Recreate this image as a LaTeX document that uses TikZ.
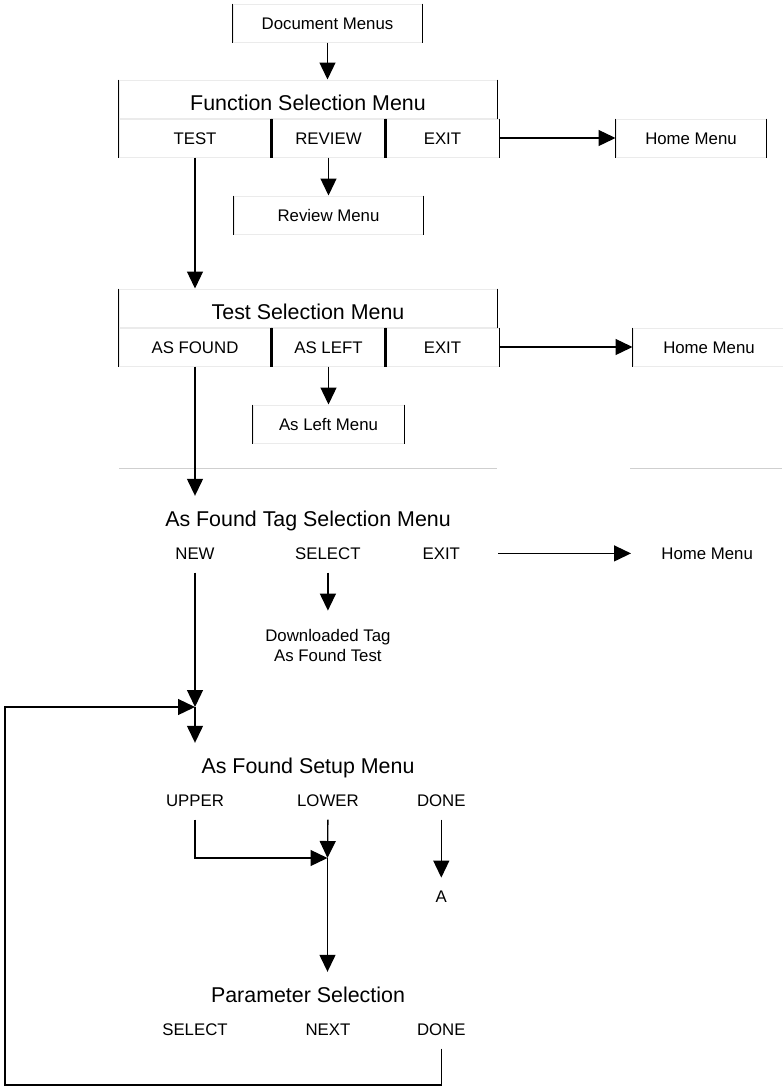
\documentclass[tikz,border=0pt]{standalone}
\usepackage{fontspec}
\setmainfont{Liberation Sans}
\usetikzlibrary{arrows.meta,positioning}
\definecolor{ink}{HTML}{000000}
\definecolor{edgegray}{HTML}{EBEBEB}
\definecolor{rulegray}{HTML}{CFCFCF}
\tikzset{
  banner/.style={
    font=\fontsize{21.4}{26}\selectfont,
    text height=22pt,
    text depth=0pt,
    inner sep=0pt,
    minimum width=378pt,
    minimum height=38pt
  },
  cell/.style={
    font=\fontsize{16.8}{20}\selectfont,
    text height=12pt,
    text depth=0pt,
    inner sep=0pt,
    minimum height=38pt
  },
  note/.style={
    font=\fontsize{16.8}{20}\selectfont,
    inner sep=0pt,
    align=center
  },
  framed/.style={
    draw=edgegray,
    line width=1pt,
    append after command={
      (\tikzlastnode.north west) edge[side] (\tikzlastnode.south west)
      (\tikzlastnode.north east) edge[side] (\tikzlastnode.south east)
    }
  },
  side/.style={
    -,
    draw=ink,
    line width=1.3pt
  },
  divider/.style={
    draw=ink,
    line width=2.3pt
  },
  faint/.style={
    draw=rulegray,
    line width=1pt
  },
  arrow/.style={
    -{Triangle[length=17pt,width=16pt]},
    line width=1.3pt,
    draw=ink
  }
}

\begin{document}
\begin{tikzpicture}[x=1pt, y=-1pt]
  \useasboundingbox (0,0) rectangle (783,1087);

  \node[framed, cell, minimum width=189pt] (docs) at (327.5,23) {Document Menus};

  \node[framed, banner] (fsm) at (308,99) {Function Selection Menu};
  \node[framed, cell, minimum width=152pt, anchor=north west] (ftest) at (fsm.south west) {TEST};
  \node[framed, cell, minimum width=113pt, anchor=north west] (freview) at (ftest.north east) {REVIEW};
  \node[framed, cell, minimum width=113pt, anchor=north west] (fexit) at (freview.north east) {EXIT};
  \node[framed, cell, minimum width=150pt, right=116pt of fexit] (fhome) {Home Menu};
  \node[framed, cell, minimum width=189pt, below=38pt of freview] (review) {Review Menu};

  \node[framed, banner] (tsm) at (308,308) {Test Selection Menu};
  \node[framed, cell, minimum width=152pt, anchor=north west] (tfound) at (tsm.south west) {AS FOUND};
  \node[framed, cell, minimum width=113pt, anchor=north west] (tleft) at (tfound.north east) {AS LEFT};
  \node[framed, cell, minimum width=113pt, anchor=north west] (texit) at (tleft.north east) {EXIT};
  \node[framed, cell, minimum width=152pt, right=133pt of texit] (thome) {Home Menu};
  \node[framed, cell, minimum width=151pt, below=38pt of tleft] (leftmenu) {As Left Menu};

  \draw[divider] (freview.north west) -- (freview.south west);
  \draw[divider] (fexit.north west) -- (fexit.south west);
  \draw[divider] (tleft.north west) -- (tleft.south west);
  \draw[divider] (texit.north west) -- (texit.south west);

  \draw[faint] (119,468) -- (497,468);
  \draw[faint] (630,468) -- (782,468);

  \node[banner] (aftag) at (308,515) {As Found Tag Selection Menu};
  \node[cell, minimum width=152pt, anchor=north west] (anew) at (aftag.south west) {NEW};
  \node[cell, minimum width=113pt, anchor=north west] (asel) at (anew.north east) {SELECT};
  \node[cell, minimum width=113pt, anchor=north west] (aexit) at (asel.north east) {EXIT};
  \node[cell, minimum width=152pt, right=133pt of aexit] (ahome) {Home Menu};
  \node[note, minimum width=113pt, minimum height=70pt, below=38pt of asel] (dltag) {Downloaded Tag\\As Found Test};

  \coordinate (join) at (195,707);

  \node[banner] (afsetup) at (308,762) {As Found Setup Menu};
  \node[cell, minimum width=152pt, anchor=north west] (upper) at (afsetup.south west) {UPPER};
  \node[cell, minimum width=113pt, anchor=north west] (lower) at (upper.north east) {LOWER};
  \node[cell, minimum width=113pt, anchor=north west] (sdone) at (lower.north east) {DONE};
  \node[cell, minimum width=113pt, below=58pt of sdone] (adone) {A};

  \coordinate (merge) at (327.5,858);

  \node[banner] (param) at (308,991) {Parameter Selection};
  \node[cell, minimum width=152pt, anchor=north west] (psel) at (param.south west) {SELECT};
  \node[cell, minimum width=113pt, anchor=north west] (pnext) at (psel.north east) {NEXT};
  \node[cell, minimum width=113pt, anchor=north west] (pdone) at (pnext.north east) {DONE};

  \coordinate (loopcorner) at (5,1085);

  \draw[arrow] (docs.south) -- (docs.south |- fsm.north);
  \draw[arrow] (freview.south) -- (review.north);
  \draw[arrow] (fexit.east) -- (fhome.west);
  \draw[arrow] (ftest.south) -- (tsm.north -| ftest.south);
  \draw[arrow] (tleft.south) -- (leftmenu.north);
  \draw[arrow] (texit.east) -- (thome.west);
  \draw[arrow] (tfound.south) -- (aftag.north -| tfound.south);
  \draw[arrow] (aexit.east) -- (ahome.west);
  \draw[arrow] (asel.south) -- (dltag.north);
  \draw[arrow] (anew.south) -- (join);
  \draw[arrow] (join) -- (afsetup.north -| join);
  \draw[arrow] (upper.south) |- (merge);
  \draw[arrow] (lower.south) -- (merge);
  \draw[arrow] (merge) -- (param.north -| merge);
  \draw[arrow] (sdone.south) -- (adone.north);
  \draw[arrow] (pdone.south) |- (loopcorner) |- (join);
\end{tikzpicture}
\end{document}
